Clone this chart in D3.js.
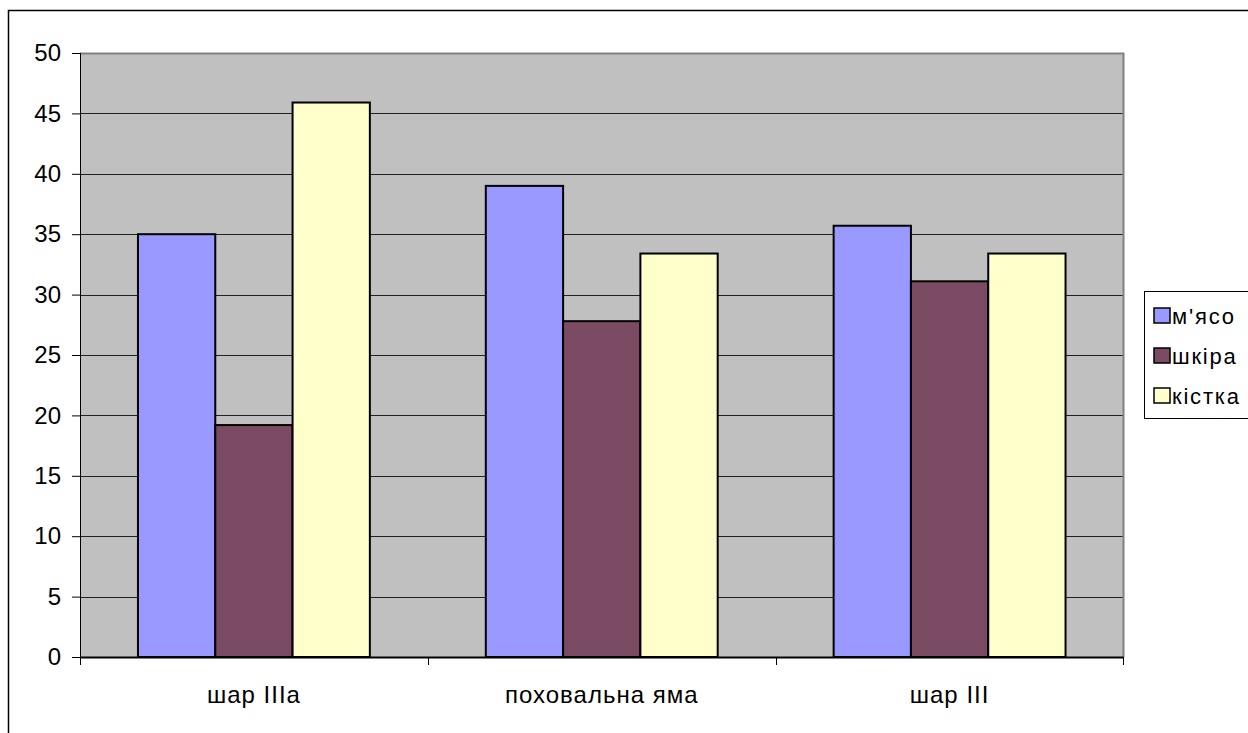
<!DOCTYPE html>
<html>
<head>
<meta charset="utf-8">
<script src="https://cdn.jsdelivr.net/npm/d3@7"></script>
<style>
body { margin: 0; background: #fff; }
svg { display: block; font-family: Arial, "Liberation Sans", sans-serif; }
</style>
</head>
<body>
<svg id="chart" width="1248" height="733"></svg>
<script>
// categories and series
var categories = ["шар IIIa", "поховальна яма", "шар III"];
var seriesNames = ["м'ясо", "шкіра", "кістка"];
var myaso = [35.0, 39.0, 35.7];
var shkira = [19.2, 27.8, 31.1];
var kistka = [45.9, 33.4, 33.4];
var yTicks = [0, 5, 10, 15, 20, 25, 30, 35, 40, 45, 50];
var colors = ["#9999ff", "#7b4a63", "#ffffcc"];

var seriesValues = [myaso, shkira, kistka];
var svg = d3.select("#chart");

// outer chart frame (runs past the window on the right and bottom)
svg.append("path")
    .attr("d", "M8.5,740 V10.5 H1260")
    .attr("fill", "none")
    .attr("stroke", "#000")
    .attr("stroke-width", 1.5);

var pLeft = 80, pTop = 53, pRight = 1123.5, pBottom = 657;

var x = d3.scaleBand().domain(categories).range([pLeft, pRight]);
// Excel gap width 150%: bar = band / 4.5
var gap = x.bandwidth() * 0.75 / 4.5;
var xs = d3.scaleBand().domain(seriesNames).range([gap, x.bandwidth() - gap]);
var y = d3.scaleLinear().domain([0, 50]).range([pBottom, pTop]);

// plot area
svg.append("rect")
    .attr("x", pLeft).attr("y", pTop)
    .attr("width", pRight - pLeft).attr("height", pBottom - pTop)
    .attr("fill", "#c0c0c0");

// gridlines
svg.append("g").selectAll("line")
    .data(yTicks.filter(function(d){return d > 0 && d < 50}))
    .enter().append("line")
    .attr("x1", pLeft).attr("x2", pRight)
    .attr("y1", function(d){return Math.round(y(d)) + 0.5})
    .attr("y2", function(d){return Math.round(y(d)) + 0.5})
    .attr("stroke", "#222").attr("stroke-width", 1);

// plot area top/right border
svg.append("path")
    .attr("d", "M" + pLeft + "," + (pTop + 0.5) + " H" + pRight + " V" + pBottom)
    .attr("fill", "none")
    .attr("stroke", "#808080").attr("stroke-width", 2);

// bars
var groups = svg.append("g").selectAll("g")
    .data(categories)
    .enter().append("g")
    .attr("transform", function(d){return "translate(" + x(d) + ",0)"});
groups.selectAll("rect")
    .data(function(d, i){return seriesNames.map(function(s, j){return {s: s, v: seriesValues[j][i], c: colors[j]}})})
    .enter().append("rect")
    .attr("x", function(d){return xs(d.s)})
    .attr("y", function(d){return y(d.v)})
    .attr("width", xs.bandwidth())
    .attr("height", function(d){return pBottom - y(d.v)})
    .attr("fill", function(d){return d.c})
    .attr("stroke", "#000").attr("stroke-width", 2);

// y axis
var yAxis = svg.append("g")
    .attr("transform", "translate(" + pLeft + ",0)")
    .call(d3.axisLeft(y).tickValues(yTicks).tickSize(8).tickPadding(11));
yAxis.select(".domain").attr("stroke", "#000").attr("d", "M0.5," + pTop + "V" + (pBottom + 8));
yAxis.selectAll("text").style("font-size", "24px").attr("fill", "#000");

// x axis
var xAxis = svg.append("g")
    .attr("transform", "translate(0," + pBottom + ")");
xAxis.append("line")
    .attr("x1", pLeft).attr("x2", pRight)
    .attr("y1", 0.5).attr("y2", 0.5)
    .attr("stroke", "#000").attr("stroke-width", 2);
xAxis.selectAll(".tk")
    .data(categories.concat(["end"]))
    .enter().append("line")
    .attr("x1", function(d, i){return i < 3 ? Math.round(x(d)) + 0.5 : pRight})
    .attr("x2", function(d, i){return i < 3 ? Math.round(x(d)) + 0.5 : pRight})
    .attr("y1", 0).attr("y2", 8)
    .attr("stroke", "#000");
xAxis.selectAll("text")
    .data(categories)
    .enter().append("text")
    .attr("x", function(d){return x(d) + x.bandwidth() / 2})
    .attr("y", 46)
    .attr("text-anchor", "middle")
    .style("font-size", "24px")
    .style("letter-spacing", "1px")
    .text(function(d){return d});

// legend
var legend = svg.append("g").attr("transform", "translate(1144,291)");
legend.append("rect")
    .attr("x", 0.5).attr("y", 0.5)
    .attr("width", 120).attr("height", 127)
    .attr("fill", "#fff").attr("stroke", "#000");
var items = legend.selectAll(".item")
    .data(seriesNames)
    .enter().append("g")
    .attr("transform", function(d, i){return "translate(0," + (25 + i * 40) + ")"});
items.append("rect")
    .attr("x", 10).attr("y", -8)
    .attr("width", 16).attr("height", 15)
    .attr("fill", function(d, i){return colors[i]})
    .attr("stroke", "#000").attr("stroke-width", 1.5);
items.append("text")
    .attr("x", 28).attr("y", 7.5)
    .style("font-size", "22px")
    .style("letter-spacing", "1.8px")
    .text(function(d){return d});
</script>
</body>
</html>
